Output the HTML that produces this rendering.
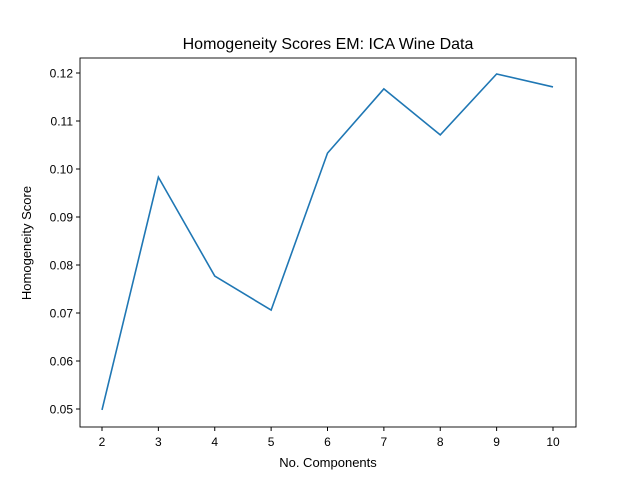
<!DOCTYPE html>
<html><head><meta charset="utf-8"><style>
body{margin:0;background:#fff;}
svg{font-family:"Liberation Sans","DejaVu Sans",sans-serif;}
</style></head><body>
<svg id="chart" width="640" height="480">
<rect width="640" height="480" fill="#fff"/>
<text x="328" y="49" text-anchor="middle" font-size="16">Homogeneity Scores EM: ICA Wine Data</text>
<text x="328" y="467" text-anchor="middle" font-size="13">No. Components</text>
<text transform="translate(31,243) rotate(-90)" text-anchor="middle" font-size="13">Homogeneity Score</text>
<g id="ticks"></g>
<path id="line" fill="none" stroke="#1f77b4" stroke-width="1.6"/>
<rect x="80" y="58" width="496" height="369" fill="none" stroke="#000" stroke-width="0.9"/>
</svg>
<script>
const components = [2,3,4,5,6,7,8,9,10];
const scores = [0.0498,0.0983,0.0777,0.0706,0.1033,0.1167,0.1071,0.1198,0.1171];
const xTicks = [2,3,4,5,6,7,8,9,10];
const yTicks = [0.05,0.06,0.07,0.08,0.09,0.10,0.11,0.12];
const yTickLabels = ["0.05","0.06","0.07","0.08","0.09","0.10","0.11","0.12"];

function xs(v){return 102+(v-2)*56.375;}
function ys(v){return 409-(v-0.05)*4800;}
const NS="http://www.w3.org/2000/svg";
const g=document.getElementById('ticks');
xTicks.forEach(t=>{
  const l=document.createElementNS(NS,'line');
  l.setAttribute('x1',xs(t));l.setAttribute('x2',xs(t));l.setAttribute('y1',427);l.setAttribute('y2',431);l.setAttribute('stroke','#000');
  
  
  g.appendChild(l);
  const tx=document.createElementNS(NS,'text');
  tx.setAttribute('x',xs(t));tx.setAttribute('y',446);tx.setAttribute('text-anchor','middle');tx.setAttribute('font-size','12');
  tx.textContent=t;
  
  
  g.appendChild(tx);
});
yTicks.forEach((t,i)=>{
  const l=document.createElementNS(NS,'line');
  l.setAttribute('x1',76);l.setAttribute('x2',80);l.setAttribute('y1',ys(t));l.setAttribute('y2',ys(t));l.setAttribute('stroke','#000');
  
  
  g.appendChild(l);
  const tx=document.createElementNS(NS,'text');
  tx.setAttribute('x',73);tx.setAttribute('y',ys(t)+4.5);tx.setAttribute('text-anchor','end');tx.setAttribute('font-size','12');
  tx.textContent=yTickLabels[i];
  
  
  g.appendChild(tx);
});
document.getElementById('line').setAttribute('d',components.map((c,i)=>(i?'L':'M')+xs(c)+','+ys(scores[i])).join(' '));
</script>
</body></html>
